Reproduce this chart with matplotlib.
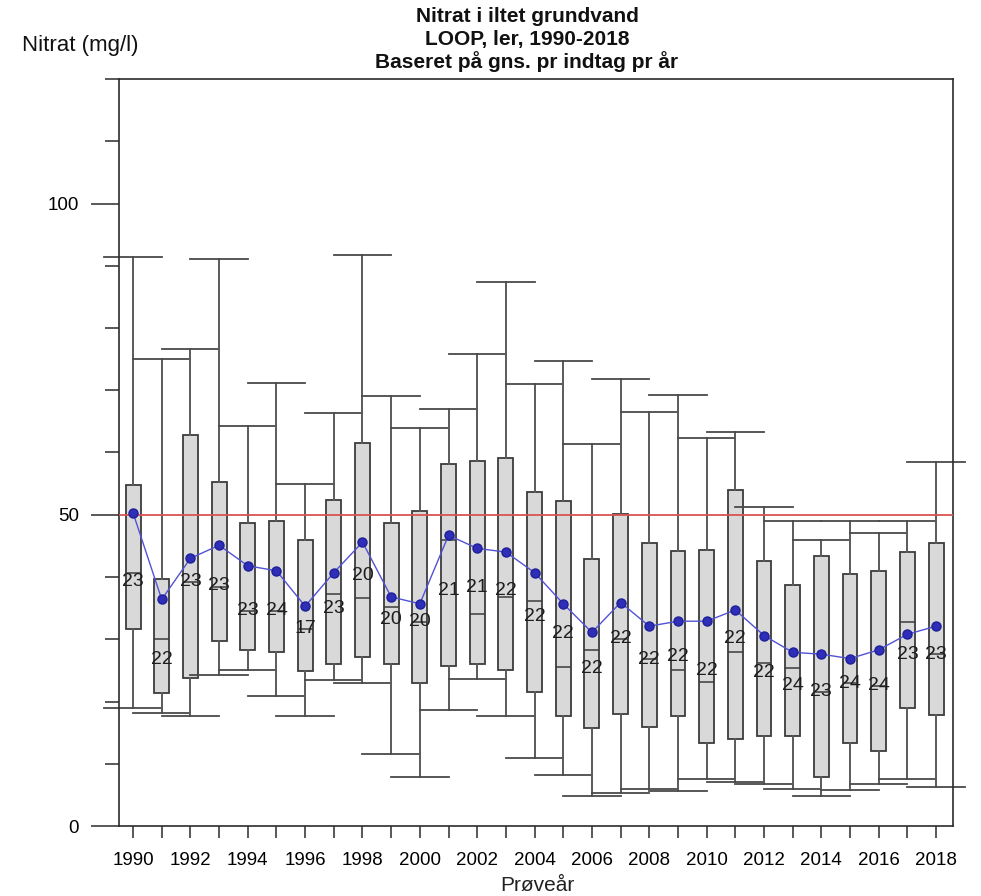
import matplotlib
matplotlib.use("Agg")
import matplotlib.pyplot as plt
from matplotlib.ticker import MultipleLocator, FixedLocator

plt.rcParams['font.family'] = ['Liberation Sans', 'DejaVu Sans']

# ---- data (mg/l) ----
years = list(range(1990, 2019))
n_intakes = [23, 22, 23, 23, 23, 24, 17, 23, 20, 20, 20, 21, 21, 22, 22,
             22, 22, 22, 22, 22, 22, 22, 22, 24, 23, 24, 24, 23, 23]
whisker_low = [18.9, 18.1, 17.7, 24.2, 25.1, 20.9, 17.7, 23.4, 22.9, 11.5,
               7.8, 18.6, 23.6, 17.7, 11.0, 8.2, 4.8, 5.3, 6.0, 5.6,
               7.6, 7.1, 6.7, 6.0, 4.8, 5.8, 6.7, 7.5, 6.3]
q1 = [31.6, 21.3, 23.7, 29.7, 28.2, 27.9, 24.9, 26.0, 27.2, 26.0,
      23.0, 25.7, 26.0, 25.1, 21.6, 17.6, 15.8, 18.0, 15.9, 17.7,
      13.4, 14.0, 14.5, 14.5, 7.8, 13.3, 12.0, 18.9, 17.8]
median = [40.7, 30.0, 39.2, 38.4, 34.5, 34.5, 31.6, 37.3, 36.7, 35.2,
          32.8, 46.0, 34.0, 36.8, 36.1, 25.6, 28.3, 30.1, 26.8, 25.1,
          23.2, 28.0, 26.2, 25.4, 21.6, 22.9, 22.5, 32.7, 27.6]
q3 = [54.8, 39.7, 62.8, 55.3, 48.6, 49.0, 46.0, 52.3, 61.5, 48.7,
      50.6, 58.2, 58.7, 59.1, 53.7, 52.2, 42.9, 50.1, 45.5, 44.2,
      44.4, 54.0, 42.6, 38.7, 43.4, 40.5, 40.9, 44.0, 45.4]
whisker_high = [91.4, 75.1, 76.6, 91.1, 64.2, 71.2, 55.0, 66.4, 91.7, 69.1,
                63.9, 67.0, 75.8, 87.4, 71.0, 74.7, 61.4, 71.8, 66.5, 69.3,
                62.4, 63.3, 51.3, 49.0, 45.9, 49.0, 47.0, 49.0, 58.5]
mean = [50.3, 36.4, 43.0, 45.1, 41.8, 41.0, 35.3, 40.7, 45.6, 36.8,
        35.7, 46.7, 44.6, 44.0, 40.7, 35.7, 31.1, 35.9, 32.1, 32.9,
        32.9, 34.7, 30.6, 27.9, 27.6, 26.9, 28.3, 30.8, 32.1]
count_label_at = [39.2, 26.7, 39.2, 38.6, 34.6, 34.6, 31.7, 35.0, 40.3, 33.2,
                  32.8, 37.9, 38.3, 37.9, 33.6, 30.9, 25.3, 30.1, 26.8, 27.2,
                  24.9, 30.1, 24.6, 22.5, 21.6, 22.9, 22.5, 27.5, 27.6]
limit_value = 50

title_lines = ["Nitrat i iltet grundvand", "LOOP, ler, 1990-2018",
               "Baseret på gns. pr indtag pr år"]
y_title = "Nitrat (mg/l)"
x_title = "Prøveår"

# ---- figure ----
W, H = 981, 896
fig = plt.figure(figsize=(W / 100, H / 100), dpi=100)
ax = fig.add_axes([119 / W, (H - 826) / H, (953 - 119) / W, 747 / H])
ax.set_xlim(1989.51, 2018.59)
ax.set_ylim(0, 120)

stats = []
for i in range(len(years)):
    stats.append(dict(whislo=whisker_low[i], q1=q1[i], med=median[i],
                      q3=q3[i], whishi=whisker_high[i], fliers=[]))

art = ax.bxp(stats, positions=years, widths=0.52, capwidths=2.0,
             patch_artist=True, showfliers=False, manage_ticks=False,
             boxprops=dict(facecolor='#d9d9d9', edgecolor='#3c3c3c', linewidth=1.3),
             whiskerprops=dict(color='#5a5a5a', linewidth=1.4),
             capprops=dict(color='#4a4a4a', linewidth=1.3),
             medianprops=dict(color='#3c3c3c', linewidth=1.1))
for cap in art['caps']:
    cap.set_clip_on(False)

# reference limit
ax.axhline(limit_value, color='#d9534f', linewidth=1.3, zorder=3)

# yearly mean
ax.plot(years, mean, color='#5252d6', linewidth=1.0, zorder=4)
ax.plot(years, mean, 'o', color='#2e2eb8', markeredgecolor='#1f1f99',
        markersize=6.5, zorder=5)

# number of intakes per year
for yr, cnt, yv in zip(years, n_intakes, count_label_at):
    ax.text(yr, yv, str(cnt), ha='center', va='center', fontsize=14,
            color='#1e1e1e', zorder=6)

# axes styling
for sp in ax.spines.values():
    sp.set_color('#2b2b2b')
    sp.set_linewidth(1.2)

ax.xaxis.set_major_locator(FixedLocator(years[::2]))
ax.xaxis.set_minor_locator(FixedLocator(years[1::2]))
ax.set_xticklabels([str(y) for y in years[::2]])
ax.yaxis.set_major_locator(MultipleLocator(50))
ax.yaxis.set_minor_locator(MultipleLocator(10))
ax.tick_params(axis='x', which='both', direction='out', length=8.6,
               width=1.1, color='#2b2b2b', labelsize=13.5, pad=10)
ax.tick_params(axis='y', which='major', direction='out', length=20,
               width=1.1, color='#2b2b2b', labelsize=13.5, pad=9)
ax.tick_params(axis='y', which='minor', direction='out', length=10,
               width=1.1, color='#2b2b2b')

# titles
title_y = [16, 39, 62]
for line, yp in zip(title_lines, title_y):
    fig.text(527 / W, 1 - yp / H, line, ha='center', va='center',
             fontsize=15, fontweight='bold', color='#111111')
fig.text(22 / W, 1 - 45 / H, y_title, ha='left', va='center',
         fontsize=16, color='#111111')
fig.text(537 / W, 1 - 885 / H, x_title, ha='center', va='center',
         fontsize=15, color='#222222')

fig.savefig('out.png', dpi=100)
